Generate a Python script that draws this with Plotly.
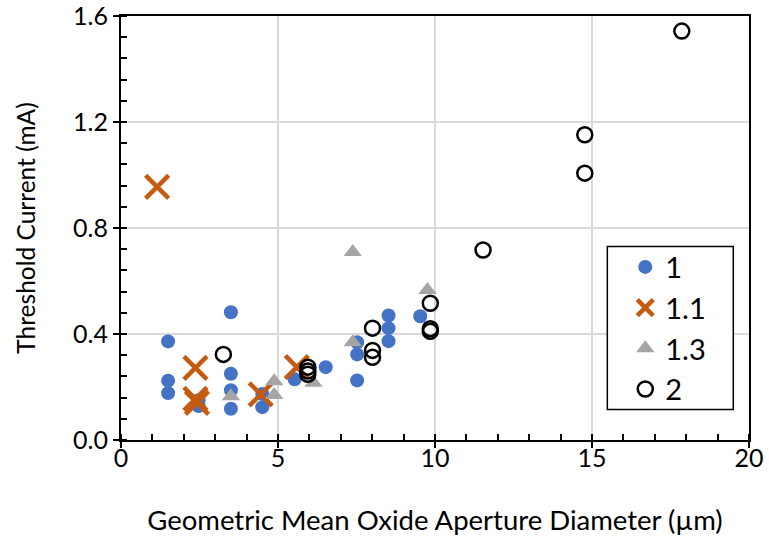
import plotly.graph_objects as go

# Threshold current vs. oxide aperture diameter, grouped by series
x_s1 = [1.5, 1.5, 1.5, 2.47, 2.47, 3.5, 3.5, 3.5, 3.5, 4.5, 4.5, 5.53, 6.52,
        7.52, 7.52, 7.52, 8.52, 8.52, 8.52, 9.53]
y_s1 = [0.372, 0.224, 0.177, 0.15, 0.128, 0.482, 0.25, 0.188, 0.118, 0.174, 0.124,
        0.229, 0.275, 0.369, 0.323, 0.225, 0.47, 0.422, 0.373, 0.467]

x_s11 = [1.15, 2.37, 2.37, 2.42, 4.45, 5.6]
y_s11 = [0.955, 0.272, 0.155, 0.14, 0.172, 0.275]

x_s13 = [3.5, 4.88, 4.88, 6.13, 7.38, 7.38, 9.76]
y_s13 = [0.165, 0.222, 0.17, 0.216, 0.709, 0.369, 0.566]

x_s2 = [3.26, 5.95, 5.95, 5.95, 8.01, 8.01, 8.01, 9.85, 9.85, 9.85, 11.53,
        14.77, 14.77, 17.86]
y_s2 = [0.323, 0.275, 0.26, 0.248, 0.422, 0.338, 0.312, 0.516, 0.42, 0.41,
        0.717, 1.152, 1.007, 1.543]

x_ticks = [0, 5, 10, 15, 20]
y_ticks = [0.0, 0.4, 0.8, 1.2, 1.6]
y_tick_text = ["0.0", "0.4", "0.8", "1.2", "1.6"]

FONT = "Lato"
ORANGE = "#C55A11"
x_range = [0, 20]
y_range = [0, 1.6]

fig = go.Figure()
fig.add_trace(go.Scatter(x=x_s1, y=y_s1, mode="markers", name="1",
                         marker=dict(symbol="circle", size=14, color="#4472C4")))
fig.add_trace(go.Scatter(x=x_s11, y=y_s11, mode="markers", name="1.1",
                         marker=dict(symbol="x-thin-open", size=23, color=ORANGE,
                                     line=dict(color=ORANGE, width=4.5))))
fig.add_trace(go.Scatter(x=x_s13, y=y_s13, mode="markers", name="1.3",
                         marker=dict(symbol="triangle-up", size=16, color="#A5A5A5")))
fig.add_trace(go.Scatter(x=x_s2, y=y_s2, mode="markers", name="2",
                         marker=dict(symbol="circle-open", size=15, color="black",
                                     line=dict(color="black", width=2.5))))
# carrier for the overlay axes that draw the inner half of the major ticks
fig.add_trace(go.Scatter(x=[None], y=[None], xaxis="x2", yaxis="y2",
                         showlegend=False, hoverinfo="skip"))

axis_common = dict(showgrid=True, gridcolor="#D9D9D9", gridwidth=1.5,
                   showline=True, linecolor="black", linewidth=2, mirror=True,
                   zeroline=False, automargin=False, ticklabeloverflow="allow",
                   ticks="outside", ticklen=6, tickwidth=2, tickcolor="black",
                   tickfont=dict(size=25))
overlay_common = dict(showgrid=False, showline=False, zeroline=False,
                      showticklabels=False, automargin=False,
                      ticks="inside", ticklen=6, tickwidth=2, tickcolor="black")

fig.update_layout(
    width=769, height=541, autosize=False,
    margin=dict(l=121, r=20, t=16, b=101),
    paper_bgcolor="white", plot_bgcolor="white",
    font=dict(family=FONT, color="black", size=25),
    showlegend=True,
    legend=dict(x=0.803, y=0.468, xanchor="left", yanchor="top",
                bgcolor="rgba(0,0,0,0)", borderwidth=0,
                font=dict(size=29, family=FONT), tracegroupgap=0),
    # frame around the legend entries
    shapes=[dict(type="rect", xref="paper", yref="paper",
                 x0=0.7744, x1=0.975, y0=0.0719, y1=0.4564,
                 line=dict(color="black", width=1.5), fillcolor="white",
                 layer="above")],
    xaxis=dict(range=x_range, tickmode="array", tickvals=x_ticks,
               ticklabelstandoff=-11,
               minor=dict(dtick=1, ticks="inside", ticklen=6, tickwidth=1.5,
                          tickcolor="black", showgrid=False),
               title=dict(text="Geometric Mean Oxide Aperture Diameter (µm)",
                          font=dict(size=27.5), standoff=40),
               **axis_common),
    yaxis=dict(range=y_range, tickmode="array", tickvals=y_ticks,
               ticktext=y_tick_text,
               minor=dict(dtick=0.08, ticks="inside", ticklen=6, tickwidth=1.5,
                          tickcolor="black", showgrid=False),
               title=dict(text="Threshold Current (mA)", font=dict(size=24.5),
                          standoff=31),
               **axis_common),
    xaxis2=dict(range=x_range, tickmode="array", tickvals=x_ticks,
                overlaying="x", side="bottom", **overlay_common),
    yaxis2=dict(range=y_range, tickmode="array", tickvals=y_ticks,
                overlaying="y", side="left", **overlay_common),
)

fig.write_html("out.html")
